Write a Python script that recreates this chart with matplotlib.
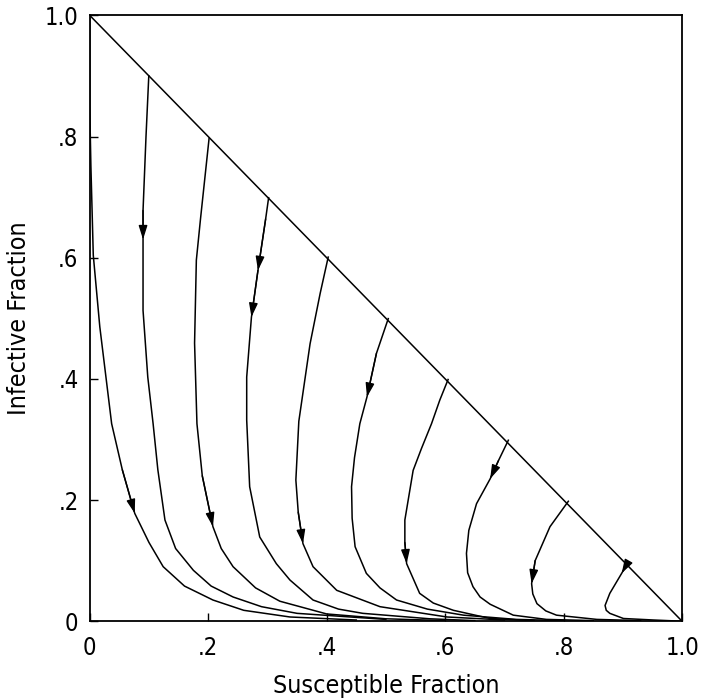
import matplotlib.pyplot as plt
import numpy as np

plt.rcParams['font.family'] = ['DejaVu Sans']
plt.rcParams['font.stretch'] = 'condensed'

# trajectories: susceptible (s) and infective (i) fractions
s_00 = [0.0, 0.0, 0.002, 0.006, 0.017, 0.037, 0.055, 0.076, 0.1, 0.124, 0.16, 0.208, 0.26, 0.338, 0.45]
i_00 = [1.0, 0.85, 0.75, 0.604, 0.486, 0.326, 0.25, 0.178, 0.13, 0.09, 0.058, 0.035, 0.018, 0.007, 0.002]

s_01 = [0.0997, 0.095, 0.09, 0.09, 0.09, 0.098, 0.107, 0.115, 0.127, 0.145, 0.175, 0.205, 0.242, 0.29, 0.35, 0.5]
i_01 = [0.9, 0.8, 0.678, 0.63, 0.513, 0.403, 0.326, 0.25, 0.167, 0.12, 0.084, 0.058, 0.04, 0.024, 0.013, 0.003]

s_02 = [0.2015, 0.187, 0.18, 0.177, 0.181, 0.19, 0.208, 0.222, 0.242, 0.28, 0.321, 0.4, 0.5, 0.6]
i_02 = [0.797, 0.664, 0.596, 0.459, 0.326, 0.24, 0.156, 0.12, 0.09, 0.055, 0.033, 0.012, 0.004, 0.001]

s_03 = [0.302, 0.297, 0.284, 0.273, 0.265, 0.265, 0.27, 0.287, 0.315, 0.338, 0.377, 0.42, 0.461, 0.574, 0.65]
i_03 = [0.699, 0.664, 0.579, 0.502, 0.403, 0.332, 0.222, 0.139, 0.095, 0.068, 0.035, 0.02, 0.013, 0.004, 0.001]

s_04 = [0.4026, 0.389, 0.372, 0.353, 0.348, 0.352, 0.36, 0.377, 0.417, 0.49, 0.603, 0.7]
i_04 = [0.601, 0.541, 0.458, 0.33, 0.233, 0.18, 0.128, 0.09, 0.051, 0.024, 0.007, 0.002]

s_05 = [0.504, 0.484, 0.468, 0.456, 0.447, 0.442, 0.443, 0.448, 0.467, 0.49, 0.518, 0.57, 0.631, 0.72, 0.8]
i_05 = [0.4995, 0.442, 0.37, 0.326, 0.27, 0.222, 0.17, 0.123, 0.079, 0.055, 0.035, 0.02, 0.01, 0.003, 0.001]

s_06 = [0.605, 0.591, 0.577, 0.56, 0.546, 0.532, 0.532, 0.535, 0.557, 0.58, 0.614, 0.676, 0.75]
i_06 = [0.399, 0.365, 0.326, 0.285, 0.249, 0.167, 0.13, 0.095, 0.046, 0.03, 0.018, 0.0045, 0.001]

s_07 = [0.7067, 0.69, 0.676, 0.653, 0.64, 0.636, 0.638, 0.647, 0.659, 0.676, 0.715, 0.771, 0.85]
i_07 = [0.2987, 0.265, 0.235, 0.194, 0.15, 0.112, 0.08, 0.057, 0.04, 0.028, 0.01, 0.003, 0.001]

s_08 = [0.808, 0.777, 0.752, 0.746, 0.748, 0.755, 0.77, 0.788, 0.856, 0.93]
i_08 = [0.198, 0.156, 0.1, 0.062, 0.045, 0.029, 0.017, 0.01, 0.003, 0.001]

s_09 = [0.909, 0.898, 0.878, 0.87, 0.872, 0.878, 0.901, 0.952, 1.0]
i_09 = [0.098, 0.079, 0.046, 0.026, 0.018, 0.013, 0.0045, 0.002, 0.0]

# (curve number, point index) where an arrowhead sits
arrows = [(0, 7), (1, 3), (2, 6), (3, 2), (3, 3), (4, 6), (5, 2), (6, 7), (7, 2), (8, 3), (9, 1)]

ticks = [0, 0.2, 0.4, 0.6, 0.8, 1.0]
tick_labels = ['0', '.2', '.4', '.6', '.8', '1.0']

curves = [(s_00, i_00), (s_01, i_01), (s_02, i_02), (s_03, i_03), (s_04, i_04),
          (s_05, i_05), (s_06, i_06), (s_07, i_07), (s_08, i_08), (s_09, i_09)]

fig = plt.figure(figsize=(7.01, 6.98), dpi=100)
ax = fig.add_axes([0.128, 0.11, 0.845, 0.868])

# boundary s + i = 1
ax.plot([0, 1], [1, 0], color='k', lw=1.1)

for s, i in curves:
    ax.plot(s, i, color='k', lw=1.1)

for c, k in arrows:
    s, i = curves[c]
    ax.annotate('', xy=(s[k], i[k]), xytext=(s[k - 1], i[k - 1]),
                arrowprops=dict(arrowstyle='-|>,head_length=0.7,head_width=0.22',
                                color='k', lw=1.0, mutation_scale=12,
                                shrinkA=0, shrinkB=0))

ax.set_xlim(0, 1)
ax.set_ylim(0, 1)
ax.set_xticks(ticks)
ax.set_xticklabels(tick_labels)
ax.set_yticks(ticks)
ax.set_yticklabels(tick_labels)
ax.tick_params(direction='in', length=6, width=1, labelsize=17)
ax.tick_params(axis='x', pad=11)
ax.tick_params(axis='y', pad=8)
for sp in ax.spines.values():
    sp.set_linewidth(1.3)

ax.set_xlabel('Susceptible Fraction', fontsize=18, labelpad=10)
ax.set_ylabel('Infective Fraction', fontsize=18, labelpad=10)

fig.savefig('out.png', dpi=100)
